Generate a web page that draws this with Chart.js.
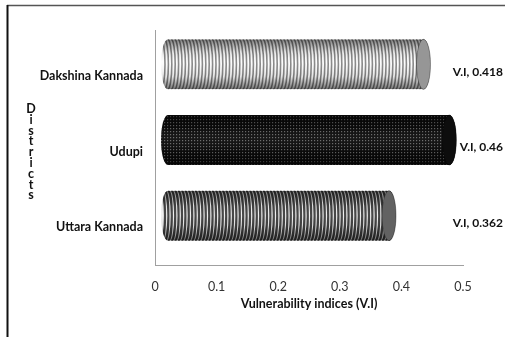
<!DOCTYPE html>
<html>
<head>
<meta charset="utf-8">
<script src="https://cdn.jsdelivr.net/npm/chart.js@4/dist/chart.umd.min.js"></script>
<style>
  html, body { margin: 0; padding: 0; background: #fff; overflow: hidden; }
  #wrap { width: 505px; height: 337px; position: relative; }
</style>
</head>
<body>
<div id="wrap"><canvas id="chart" width="505" height="337"></canvas></div>
<script>
const districts = ['Dakshina Kannada', 'Udupi', 'Uttara Kannada'];
const viValues = [0.418, 0.46, 0.362];
const xTicks = [0, 0.1, 0.2, 0.3, 0.4, 0.5];
const yTitle = 'Districts';
const xTitle = 'Vulnerability indices (V.I)';

const FONT = 'Lato, "Open Sans", sans-serif';

// bar looks: light stripes, black dotted, dark stripes
const barStyles = [
  { kind: 'stripes', bg: '#fdfdfd', line: '#858585', lw: 1.6, cap: '#969696' },
  { kind: 'dots', bg: '#0b0b0b', dot: '#6a6a6a', cap: '#0d0d0d' },
  { kind: 'stripes', bg: '#eeeeee', line: '#3e3e3e', lw: 2.2, cap: '#626262' }
];

function drawCylinder(ctx, x0, x1, yc, h, st) {
  const ry = h / 2, rx = 7;
  ctx.save();
  ctx.beginPath();
  ctx.ellipse(x0, yc, rx, ry, 0, Math.PI / 2, Math.PI * 1.5);
  ctx.lineTo(x1, yc - ry);
  ctx.ellipse(x1, yc, rx, ry, 0, -Math.PI / 2, Math.PI / 2);
  ctx.closePath();
  ctx.clip();
  ctx.fillStyle = st.bg;
  ctx.fillRect(x0 - rx, yc - ry, x1 - x0 + 2 * rx, h);

  if (st.kind === 'stripes') {
    ctx.strokeStyle = st.line;
    ctx.lineWidth = st.lw;
    for (let x = x0 - rx; x < x1; x += 3.4) {
      ctx.beginPath();
      ctx.ellipse(x, yc, 4, ry, 0, -Math.PI / 2, Math.PI / 2);
      ctx.stroke();
    }
  } else {
    ctx.fillStyle = st.dot;
    for (let x = x0 - rx; x < x1 + rx; x += 3) {
      for (let y = yc - ry + 1; y < yc + ry; y += 3) {
        ctx.fillRect(x, y, 1.2, 1.2);
      }
    }
  }
  // round shading
  const g = ctx.createLinearGradient(0, yc - ry, 0, yc + ry);
  g.addColorStop(0, 'rgba(0,0,0,0.5)');
  g.addColorStop(0.25, 'rgba(0,0,0,0.1)');
  g.addColorStop(0.45, 'rgba(255,255,255,0.05)');
  g.addColorStop(0.75, 'rgba(0,0,0,0.1)');
  g.addColorStop(1, 'rgba(0,0,0,0.55)');
  ctx.fillStyle = g;
  ctx.fillRect(x0 - rx, yc - ry, x1 - x0 + 2 * rx, h);
  ctx.restore();

  // end face
  ctx.save();
  ctx.beginPath();
  ctx.ellipse(x1, yc, rx, ry, 0, 0, Math.PI * 2);
  ctx.fillStyle = st.cap;
  ctx.fill();
  ctx.strokeStyle = 'rgba(0,0,0,0.35)';
  ctx.lineWidth = 1;
  ctx.stroke();
  ctx.restore();
}

const decorPlugin = {
  id: 'decor',
  beforeDraw(chart) {
    const ctx = chart.ctx;
    const a = chart.chartArea;
    ctx.save();
    // outer frame
    ctx.strokeStyle = '#555';
    ctx.lineWidth = 1.5;
    ctx.beginPath();
    ctx.moveTo(7, 5.5);
    ctx.lineTo(505, 5.5);
    ctx.stroke();
    ctx.strokeStyle = '#111';
    ctx.lineWidth = 2;
    ctx.beginPath();
    ctx.moveTo(7.5, 5);
    ctx.lineTo(7.5, 337);
    ctx.stroke();
    // value axis wall line
    ctx.strokeStyle = '#a0a0a0';
    ctx.lineWidth = 1;
    ctx.beginPath();
    ctx.moveTo(a.left + 0.5, a.top - 8);
    ctx.lineTo(a.left + 0.5, a.bottom);
    ctx.stroke();
    // stacked y title
    ctx.fillStyle = '#111';
    ctx.font = 'bold 12.5px ' + FONT;
    ctx.textAlign = 'center';
    ctx.textBaseline = 'middle';
    yTitle.split('').forEach((ch, i) => ctx.fillText(ch, 31, 109 + i * 10.8));
    ctx.restore();
  },
  afterDatasetsDraw(chart) {
    const ctx = chart.ctx;
    const meta = chart.getDatasetMeta(0);
    meta.data.forEach((bar, i) => {
      const yc = bar.y - 11.5;
      drawCylinder(ctx, bar.base + 13, bar.x + 11, yc, bar.height, barStyles[i]);
      // data label
      ctx.save();
      ctx.fillStyle = '#111';
      ctx.font = 'bold 12px ' + FONT;
      ctx.textAlign = 'right';
      ctx.textBaseline = 'middle';
      ctx.fillText('V.I, ' + viValues[i], chart.chartArea.right + 40, bar.y - 4);
      ctx.restore();
    });
  }
};

new Chart(document.getElementById('chart'), {
  type: 'bar',
  data: {
    labels: districts,
    datasets: [{
      label: 'V.I',
      data: viValues,
      backgroundColor: 'rgba(0,0,0,0)',
      borderWidth: 0,
      barPercentage: 0.66,
      categoryPercentage: 1
    }]
  },
  options: {
    indexAxis: 'y',
    responsive: false,
    animation: false,
    events: [],
    layout: { padding: { top: 38, right: 42, bottom: 14, left: 0 } },
    plugins: { legend: { display: false }, tooltip: { enabled: false } },
    scales: {
      x: {
        min: 0,
        max: 0.5,
        afterBuildTicks: s => { s.ticks = xTicks.map(v => ({ value: v })); },
        grid: { display: false, drawTicks: false },
        border: { display: true, color: '#a0a0a0', width: 1 },
        ticks: {
          padding: 14,
          color: '#333',
          font: { family: FONT, size: 12.5 },
          callback: v => String(v)
        },
        title: {
          display: true,
          text: xTitle,
          color: '#111',
          font: { family: FONT, size: 12.5, weight: 'bold' },
          padding: { top: -12, bottom: 12 }
        }
      },
      y: {
        afterFit: s => { s.width = 155; },
        grid: { display: false, drawTicks: false },
        border: { display: false },
        ticks: {
          padding: 12,
          autoSkip: false,
          color: '#111',
          font: { family: FONT, size: 12.5, weight: 'bold' }
        }
      }
    }
  },
  plugins: [decorPlugin]
});
</script>
</body>
</html>
